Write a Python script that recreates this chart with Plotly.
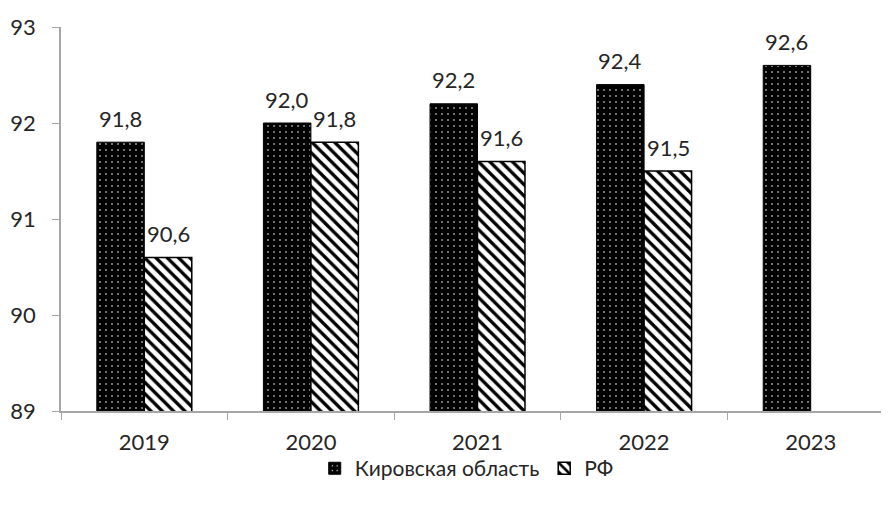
import plotly.graph_objects as go

years = ["2019", "2020", "2021", "2022", "2023"]
kirov = [91.8, 92.0, 92.2, 92.4, 92.6]
rf = [90.6, 91.8, 91.6, 91.5, None]
y_ticks = [89, 90, 91, 92, 93]

def fmt(v):
    return "" if v is None else f"{v:.1f}".replace(".", ",")

FONT = "Lato, 'Open Sans', sans-serif"
TXT = "#262626"

fig = go.Figure()
fig.add_trace(go.Bar(
    x=years, y=kirov, name="Кировская область",
    marker=dict(color="black", line=dict(color="black", width=1),
                pattern=dict(shape=".", fgcolor="white", bgcolor="black",
                             size=6, solidity=0.06, fillmode="replace")),
))
fig.add_trace(go.Bar(
    x=years, y=rf, name="РФ",
    marker=dict(color="white", line=dict(color="black", width=1.5),
                pattern=dict(shape="\\", fgcolor="black", bgcolor="white",
                             size=8, solidity=0.42, fillmode="replace")),
))

# value labels above bars (category index positions on the x axis)
BAR_HALF = 24
for series, shift in ((kirov, -BAR_HALF), (rf, BAR_HALF)):
    for i, v in enumerate(series):
        if v is None:
            continue
        fig.add_annotation(
            x=i, y=v, xref="x", yref="y", text=fmt(v), showarrow=False,
            xanchor="center", yanchor="middle",
            xshift=shift, yshift=24,
            font=dict(family=FONT, size=22, color=TXT),
        )

fig.update_layout(
    width=881, height=491,
    margin=dict(l=53, r=0, t=19, b=88, autoexpand=False),
    paper_bgcolor="white", plot_bgcolor="white",
    barmode="group", bargap=0.43, bargroupgap=0,
    font=dict(family=FONT, size=22, color=TXT),
    showlegend=True,
    legend=dict(orientation="h", x=0.49, xanchor="center", y=-0.15, yanchor="middle",
                font=dict(size=21, color=TXT), itemwidth=30,
                bgcolor="rgba(0,0,0,0)", traceorder="normal"),
)
fig.update_xaxes(
    type="category", range=[-0.5, 4.47], automargin=False,
    showline=True, linecolor="#a6a6a6", linewidth=1.5,
    ticks="outside", ticklen=7, tickcolor="#a6a6a6", tickson="boundaries",
    tickfont=dict(size=22), showgrid=False, ticklabelstandoff=11,
)
fig.update_yaxes(
    range=[89, 93], tickvals=y_ticks, ticktext=[str(t) for t in y_ticks],
    automargin=False,
    showline=True, linecolor="#a6a6a6", linewidth=1.5,
    ticks="outside", ticklen=7, tickcolor="#a6a6a6",
    tickfont=dict(size=22), showgrid=False, zeroline=False,
    ticklabelstandoff=12,
)

fig.write_html("out.html")
